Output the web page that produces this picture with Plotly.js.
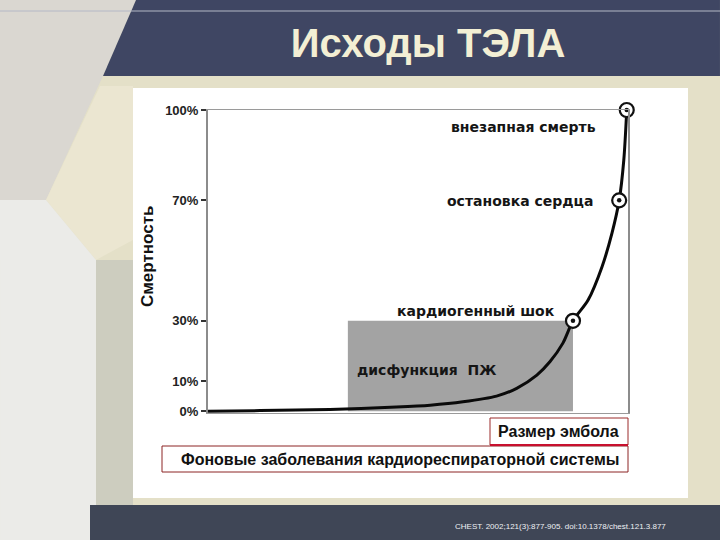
<!DOCTYPE html>
<html><head><meta charset="utf-8">
<script src="https://cdn.plot.ly/plotly-3.0.1.min.js"></script>
<style>html,body{margin:0;padding:0;background:#e4e0c8}#chart{width:720px;height:540px}</style>
</head><body><div id="chart"></div>
<script>
// ---- data ----
const curveX = [0, 12.4, 29.0, 44.9, 52.9, 60.7, 68.7, 73.5, 78.3, 81.4, 84.5, 86.9, 90.5, 93.8, 96.2, 97.9, 99.0, 99.7];
const curveY = [0, 0.2, 0.6, 1.4, 2.0, 3.1, 5.0, 7.6, 12.0, 16.4, 22.6, 30, 36.9, 47.9, 59.2, 70, 83.4, 100];
const eventX = [86.9, 97.9, 99.7];
const eventY = [30, 70, 100];
const eventLabels = ['кардиогенный шок', 'остановка сердца', 'внезапная смерть'];
const zoneX = [33.3, 86.9];
const zoneY = [0, 30];
const zoneLabel = 'дисфункция&nbsp;&nbsp;ПЖ';
const tickVals = [0, 10, 30, 70, 100];
const tickText = ['0%', '10%', '30%', '70%', '100%'];
const titleText = 'Исходы ТЭЛА';
const yTitle = 'Смертность';
const xLabel = 'Размер эмбола';
const bgLabel = 'Фоновые заболевания кардиореспираторной системы';
const sourceText = 'CHEST. 2002;121(3):877-905. doi:10.1378/chest.121.3.877';

// ---- layout helpers (pixel -> paper) ----
const PL = 208, PR = 92, PT = 110, PB = 127, W = 720, H = 540;
const pw = W - PL - PR, ph = H - PT - PB;
const px = p => (p - PL) / pw;
const py = p => (H - PB - p) / ph;
const poly = pts => 'M ' + pts.map(q => px(q[0]).toFixed(4) + ',' + py(q[1]).toFixed(4)).join(' L ') + ' Z';
const rect = (x0, y0, x1, y1, fill, line, lw) => ({type: 'rect', xref: 'paper', yref: 'paper', layer: 'below',
  x0: px(x0), x1: px(x1), y0: py(y1), y1: py(y0), fillcolor: fill, line: {color: line || fill, width: lw || 0}});
const pathShape = (pts, fill) => ({type: 'path', xref: 'paper', yref: 'paper', layer: 'below', path: poly(pts), fillcolor: fill, line: {width: 0}});

const labelFont = {family: 'DejaVu Sans', size: 14, weight: 'bold', color: '#151515'};
const labelPos = [[557, 311], [595, 201], [598, 127]];

const traces = [
  {x: [zoneX[0], zoneX[1], zoneX[1], zoneX[0], zoneX[0]], y: [zoneY[0], zoneY[0], zoneY[1], zoneY[1], zoneY[0]],
   type: 'scatter', mode: 'lines', fill: 'toself', fillcolor: '#a3a3a3', line: {width: 0}, hoverinfo: 'skip'},
  {x: curveX, y: curveY, type: 'scatter', mode: 'lines', line: {color: '#0a0a0a', width: 3, shape: 'spline', smoothing: 0.8}},
  {x: eventX, y: eventY, type: 'scatter', mode: 'markers', cliponaxis: false,
   marker: {symbol: 'circle', size: 14, color: '#ffffff', line: {color: '#111', width: 2.2}}},
  {x: eventX, y: eventY, type: 'scatter', mode: 'markers', cliponaxis: false,
   marker: {symbol: 'circle', size: 4.5, color: '#111', line: {width: 0}}}
];

const annotations = eventLabels.map((t, i) => ({text: t, xref: 'paper', yref: 'paper', x: px(labelPos[i][0]), y: py(labelPos[i][1]),
  xanchor: 'right', yanchor: 'middle', showarrow: false, font: labelFont}));
annotations.push(
  {text: zoneLabel, xref: 'paper', yref: 'paper', x: px(355), y: py(370), xanchor: 'left', yanchor: 'middle', showarrow: false, font: labelFont},
  {text: yTitle, xref: 'paper', yref: 'paper', x: px(147), y: py(257), xanchor: 'center', yanchor: 'middle', textangle: -90, showarrow: false,
   font: {family: 'Liberation Sans, Arial', size: 17, weight: 'bold', color: '#111'}},
  {text: xLabel, xref: 'paper', yref: 'paper', x: px(621), y: py(431), xanchor: 'right', yanchor: 'middle', showarrow: false,
   font: {family: 'Liberation Sans, Arial', size: 16, weight: 'bold', color: '#111'}},
  {text: bgLabel, xref: 'paper', yref: 'paper', x: px(400), y: py(459), xanchor: 'center', yanchor: 'middle', showarrow: false,
   font: {family: 'Liberation Sans, Arial', size: 16, weight: 'bold', color: '#111'}},
  {text: sourceText, xref: 'paper', yref: 'paper', x: px(560), y: py(526), xanchor: 'center', yanchor: 'middle', showarrow: false,
   font: {family: 'Liberation Sans, Arial', size: 8, color: '#eef0f4'}}
);

const shapes = [
  // background pieces
  pathShape([[0, 0], [136, 0], [103, 76], [46, 200], [0, 200]], '#dad7d1'),
  pathShape([[100, 86], [133, 86], [133, 240], [96, 260], [46, 200]], '#ebe6d1'),
  pathShape([[0, 200], [46, 200], [96, 260], [96, 540], [0, 540]], '#ebebe8'),
  rect(96, 260, 133, 505, '#cdcdbf'),
  pathShape([[136, 0], [720, 0], [720, 76], [103, 76]], '#3f4663'),
  rect(90, 505, 720, 540, '#3f4656'),
  {type: 'line', xref: 'paper', yref: 'paper', layer: 'below', x0: px(0), x1: px(720), y0: py(11), y1: py(11), line: {color: '#b4b8c6', width: 1}},
  rect(133, 88, 688, 498, '#ffffff'),
  // label boxes
  rect(490, 418, 628, 445, '#ffffff', '#9b2b2b', 1),
  rect(162, 446, 628, 472, '#ffffff', '#8c2424', 1),
  {type: 'line', xref: 'paper', yref: 'paper', x0: px(490), x1: px(628), y0: py(445), y1: py(445), line: {color: '#c8102e', width: 2}}
];

const layout = {
  width: W, height: H,
  margin: {l: PL, r: PR, t: PT, b: PB},
  paper_bgcolor: '#e4e0c8', plot_bgcolor: '#ffffff',
  showlegend: false,
  title: {text: titleText, xref: 'container', yref: 'container', x: 428 / W, y: 1 - 43 / H, xanchor: 'center', yanchor: 'middle',
    font: {family: 'Liberation Sans, Arial', size: 40, weight: 'bold', color: '#f3efd4'}},
  xaxis: {range: [0, 100], showline: true, mirror: true, linecolor: '#9a9a9a', linewidth: 1, showticklabels: false, ticks: '',
    showgrid: false, zeroline: false, fixedrange: true},
  yaxis: {range: [-0.6, 100], showline: true, mirror: true, linecolor: '#8c8c8c', linewidth: 2, showgrid: false, zeroline: false,
    tickmode: 'array', tickvals: tickVals, ticktext: tickText, ticks: 'outside', ticklen: 5, tickwidth: 2, tickcolor: '#333',
    tickfont: {family: 'Liberation Sans, Arial', size: 13, weight: 'bold', color: '#222'}, fixedrange: true},
  annotations: annotations,
  shapes: shapes
};

Plotly.newPlot('chart', traces, layout, {displayModeBar: false, staticPlot: true});
</script>
</body></html>
